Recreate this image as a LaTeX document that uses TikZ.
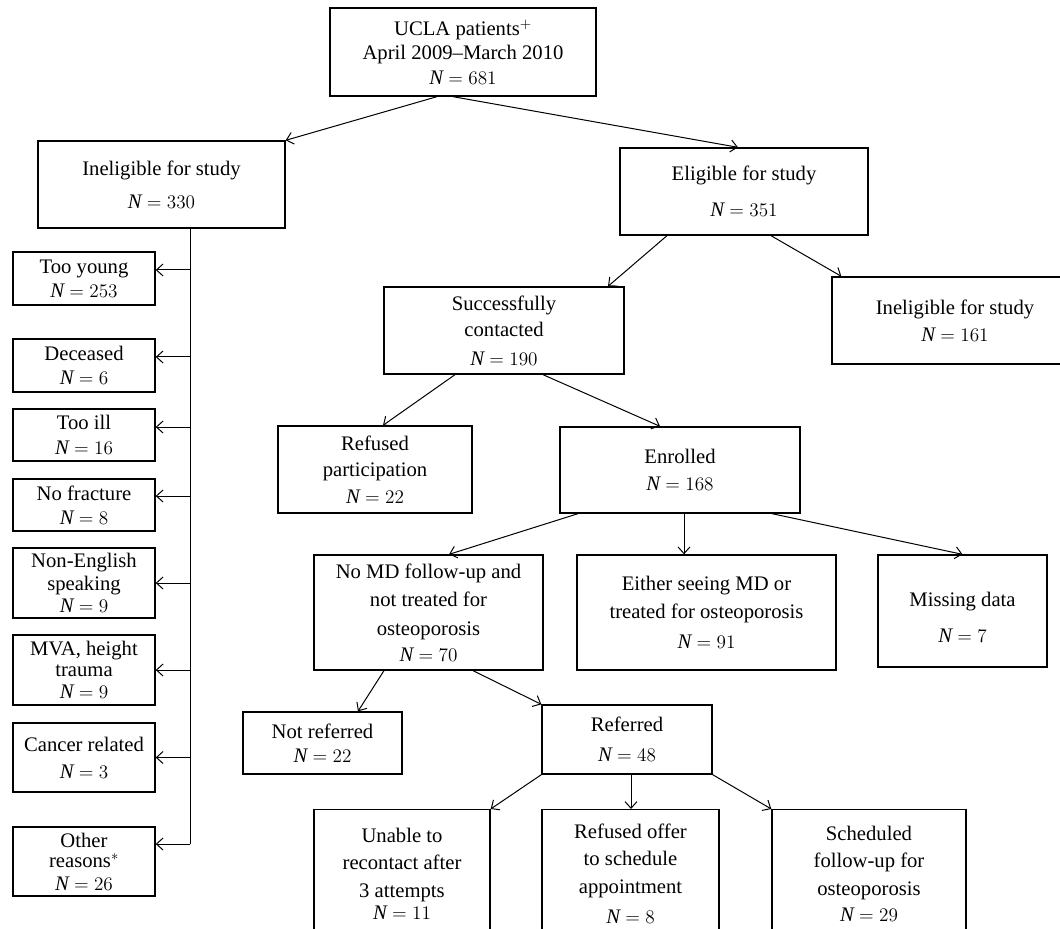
\documentclass[tikz,border=0pt]{standalone}
\usepackage{amsmath}
\usepackage{fontspec}
\setmainfont{Liberation Serif}
\usepackage{tikz}
\usetikzlibrary{arrows.meta}

\begin{document}
\begin{tikzpicture}[x=0.75pt, y=-0.75pt,
    box/.style={draw, line width=1pt, align=center, inner sep=0pt, font=\fontsize{15.5}{17}\selectfont},
    leftbox/.style={box, minimum width=106.5pt},
    arr/.style={line width=0.75pt, -{Straight Barb[length=5pt,width=9pt]}}]
    \useasboundingbox (0,0) rectangle (1060,928);
    % top of the tree
    \node[box, minimum width=199.5pt, minimum height=66pt] (ucla) at (463,52) {UCLA patients$^{+}$\\[1.5pt] April 2009–March 2010\\[1.5pt] $\textit{N} = 681$};
    \node[box, minimum width=185.25pt, minimum height=65.25pt] (inel) at (161.5,184.5) {Ineligible for study\\[7.5pt] $\textit{N} = 330$};
    \node[box, minimum width=186pt, minimum height=65.25pt] (elig) at (744,191.5) {Eligible for study\\[10pt] $\textit{N} = 351$};
    \node[box, minimum width=180pt, minimum height=65.25pt] (succ) at (504,330.5) {Successfully\\[2.5pt] contacted\\[4.5pt] $\textit{N} = 190$};
    \node[box, minimum width=184.5pt, minimum height=65.25pt] (inelig) at (955,320.5) {Ineligible for study\\[3pt] $\textit{N} = 161$};
    \node[box, minimum width=145.5pt, minimum height=65.25pt] (refpart) at (375,469.5) {Refused\\[2.5pt] participation\\[3pt] $\textit{N} = 22$};
    \node[box, minimum width=180pt, minimum height=64.5pt] (enrol) at (680,470) {Enrolled\\[3pt] $\textit{N} = 168$};
    \node[box, minimum width=171.75pt, minimum height=86.25pt] (nomd) at (428.5,612.5) {No MD follow-up and\\[4pt] not treated for\\[4.5pt] osteoporosis\\[2.5pt] $\textit{N} = 70$};
    \node[box, minimum width=194.25pt, minimum height=86.25pt] (either) at (706.5,612.5) {\rule{0pt}{8pt}Either seeing MD or\\[4pt] treated for osteoporosis\\[5.5pt] $\textit{N} = 91$};
    \node[box, minimum width=126.75pt, minimum height=84pt] (missing) at (962.5,611) {\rule{0pt}{20pt}Missing data\\[10.5pt] $\textit{N} = 7$};
    \node[box, minimum width=119.25pt, minimum height=46.5pt] (notref) at (322.5,743) {Not referred\\[1pt] $\textit{N} = 22$};
    \node[box, minimum width=127.5pt, minimum height=51.75pt] (referred) at (627,739.5) {Referred\\[5.5pt] $\textit{N} = 48$};
    \node[box, anchor=north, minimum width=132pt, minimum height=96pt] (unable) at (402,809) {Unable to\\[3.5pt] recontact after\\[3.5pt] 3 attempts\\[-0.5pt] $\textit{N} = 11$};
    \node[box, anchor=north, minimum width=132.75pt, minimum height=96pt] (refoffer) at (630.5,809) {Refused offer\\[3.5pt] to schedule\\[4pt] appointment\\[5pt] $\textit{N} = 8$};
    \node[box, anchor=north, minimum width=145.5pt, minimum height=96pt] (sched) at (869,809) {Scheduled\\[3.5pt] follow-up for\\[4pt] osteoporosis\\[2pt] $\textit{N} = 29$};
    % reasons for ineligibility
    \node[leftbox, minimum height=39.75pt] (young) at (84,278.5) {Too young\\[1pt] $\textit{N} = 253$};
    \node[leftbox, minimum height=39.75pt] (dec) at (84,365.5) {Deceased\\[1pt] $\textit{N} = 6$};
    \node[leftbox, minimum height=39pt] (ill) at (84,435) {Too ill\\[1.5pt] $\textit{N} = 16$};
    \node[leftbox, minimum height=39pt] (nofrac) at (84,505) {No fracture\\[1pt] $\textit{N} = 8$};
    \node[leftbox, minimum height=52.5pt] (nonen) at (84,583) {Non-English\\ speaking\\ $\textit{N} = 9$};
    \node[leftbox, minimum height=52.5pt] (mva) at (84,670) {MVA, height\\[-1pt] trauma\\[-0.5pt] $\textit{N} = 9$};
    \node[leftbox, minimum height=51.75pt] (cancer) at (84,757.5) {Cancer related\\[3pt] $\textit{N} = 3$};
    \node[leftbox, minimum height=51.75pt] (other) at (84,861.5) {Other\\[-2pt] reasons$^{*}$\\ $\textit{N} = 26$};
    % connectors
    \draw[arr] ([xshift=-19.5pt]ucla.south) -- (inel.north east);
    \draw[arr] ([xshift=-7.5pt]ucla.south) -- ([xshift=-4.5pt]elig.north);
    \draw[arr] ([xshift=-57.75pt]elig.south) -- ([xshift=78pt]succ.north);
    \draw[arr] ([xshift=20.25pt]elig.south) -- ([xshift=7.5pt]inelig.north west);
    \draw[arr] ([xshift=-36.75pt]succ.south) -- ([xshift=6pt]refpart.north);
    \draw[arr] ([xshift=29.25pt]succ.south) -- ([xshift=-15pt]enrol.north);
    \draw[arr] ([xshift=-76.5pt]enrol.south) -- ([xshift=15.4pt]nomd.north);
    \draw[arr] ([xshift=3pt]enrol.south) -- ([xshift=3pt]enrol.south |- either.north);
    \draw[arr] ([xshift=69pt]enrol.south) -- (missing.north);
    \draw[arr] ([xshift=-33.4pt]nomd.south) -- ([xshift=26.6pt]notref.north);
    \draw[arr] ([xshift=33.4pt]nomd.south) -- (referred.north west);
    \draw[arr] (referred.south west) -- (unable.north east);
    \draw[arr] ([xshift=3pt]referred.south) -- ([xshift=3pt]referred.south |- refoffer.north);
    \draw[arr] (referred.south east) -- (sched.north west);
    % trunk on the left
    \coordinate (trunk) at ([xshift=21.4pt]inel.south);
    \draw[line width=0.75pt] (trunk) -- ([yshift=13.1pt]other.east -| trunk);
    \draw[arr] ([yshift=6.4pt]young.east -| trunk) -- ([yshift=6.4pt]young.east);
    \draw[arr] ([yshift=6.4pt]dec.east -| trunk) -- ([yshift=6.4pt]dec.east);
    \draw[arr] ([yshift=6pt]ill.east -| trunk) -- ([yshift=6pt]ill.east);
    \draw[arr] ([yshift=6.75pt]nofrac.east -| trunk) -- ([yshift=6.75pt]nofrac.east);
    \draw[arr] (nonen.east -| trunk) -- (nonen.east);
    \draw[arr] (mva.east -| trunk) -- (mva.east);
    \draw[arr] (cancer.east -| trunk) -- (cancer.east);
    \draw[arr] ([yshift=13.1pt]other.east -| trunk) -- ([yshift=13.1pt]other.east);
\end{tikzpicture}
\end{document}
